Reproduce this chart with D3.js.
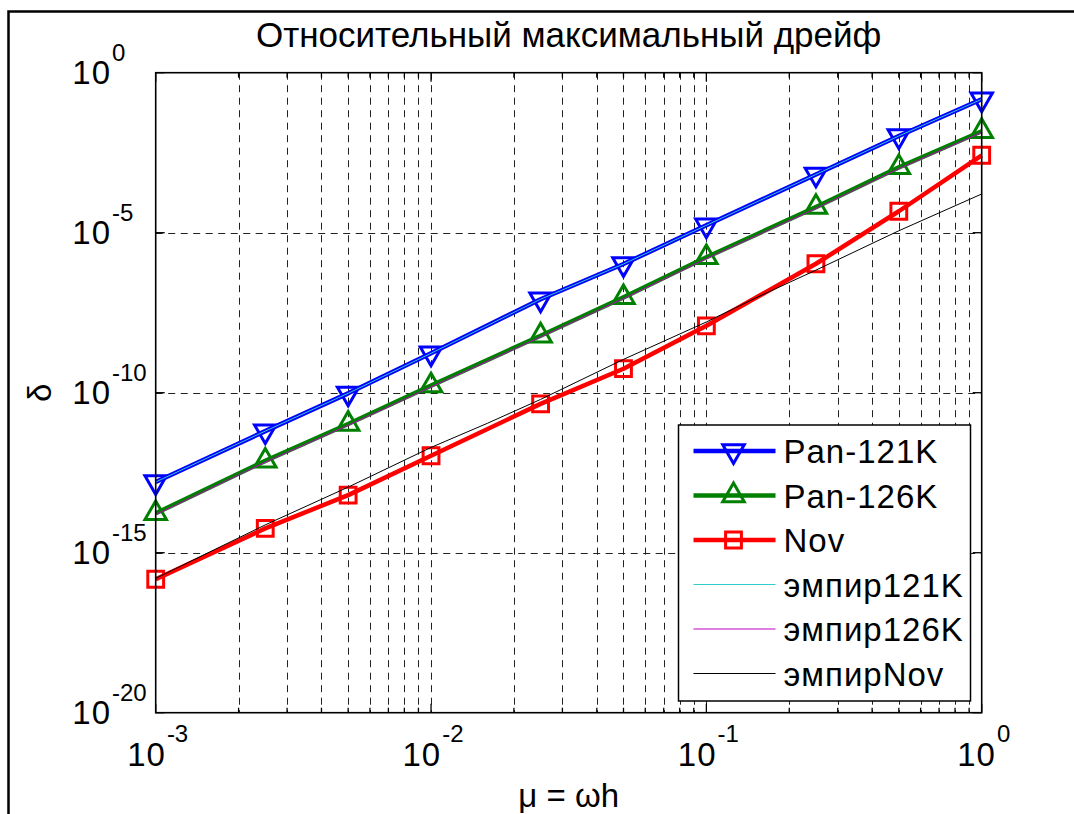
<!DOCTYPE html>
<html>
<head>
<meta charset="utf-8">
<script src="https://cdn.jsdelivr.net/npm/d3@7"></script>
<style>
  body { margin: 0; background: #fff; }
  svg text { font-family: "Liberation Sans", Arial, sans-serif; fill: #000; }
</style>
</head>
<body>
<div id="chart"></div>
<script>
// step sizes mu = omega*h
const muValues = [0.001, 0.0025, 0.005, 0.01, 0.025, 0.05, 0.1, 0.25, 0.5, 1];

// relative maximum drift
const pan121K = [1.62e-13, 6.31e-12, 9.55e-11, 1.70e-9, 8.32e-8, 1.05e-6, 1.70e-5, 6.61e-4, 1.05e-2, 0.148];
const pan126K = [1.70e-14, 7.41e-13, 1.05e-11, 1.66e-10, 6.03e-9, 9.55e-8, 1.70e-6, 6.31e-5, 1.10e-3, 1.48e-2];
const nov = [1.48e-16, 5.75e-15, 6.31e-14, 1.07e-12, 4.47e-11, 5.62e-10, 1.23e-8, 1.07e-6, 4.68e-5, 2.63e-3];

// empirical estimates
const emp121K = [1.62e-13, 6.31e-12, 9.55e-11, 1.70e-9, 8.32e-8, 1.05e-6, 1.70e-5, 6.61e-4, 1.05e-2, 0.148];
const emp126K = [1.55e-14, 6.76e-13, 9.55e-12, 1.51e-10, 5.50e-9, 8.71e-8, 1.55e-6, 5.75e-5, 1.00e-3, 1.35e-2];
const empNovMu = [0.001, 0.0025, 0.005, 0.01, 0.016, 0.025, 0.05, 0.1, 0.15, 0.25, 0.5, 1];
const empNov = [1.58e-16, 7.41e-15, 1.12e-13, 1.95e-12, 1.10e-11, 6.17e-11, 1.10e-9, 1.62e-8, 8.91e-8, 6.76e-7, 1.15e-5, 1.62e-4];

const xTickExps = [-3, -2, -1, 0];
const yTickExps = [0, -5, -10, -15, -20];
const legendNames = ['Pan-121K', 'Pan-126K', 'Nov', 'эмпир121K', 'эмпир126K', 'эмпирNov'];

const width = 1074, height = 814;
const plot = { left: 155.7, right: 981.7, top: 72.7, bottom: 712.7 };

const svg = d3.select('#chart')
  .append('svg')
  .attr('width', width)
  .attr('height', height);

svg.append('rect')
  .attr('width', width)
  .attr('height', height)
  .attr('fill', '#fff');

// figure frame (cut off at right and bottom)
svg.append('rect')
  .attr('x', 8.5)
  .attr('y', 11.5)
  .attr('width', 1100)
  .attr('height', 900)
  .attr('fill', 'none')
  .attr('stroke', '#000')
  .attr('stroke-width', 2.5);

const xScale = d3.scaleLog().domain([1e-3, 1]).range([plot.left, plot.right]);
const yScale = d3.scaleLog().domain([1e-20, 1]).range([plot.bottom, plot.top]);

// grid
const xGrid = [];
xTickExps.slice(0, -1).forEach(e => {
  for (let k = 1; k <= 9; k++) xGrid.push(k * Math.pow(10, e));
});
const xMinor = xGrid.filter((d, i) => i % 9 !== 0);

const grid = svg.append('g')
  .attr('stroke', '#222')
  .attr('stroke-width', 1)
  .attr('stroke-dasharray', '7,5.5');

grid.selectAll('.vgrid')
  .data(xGrid.slice(1))
  .enter()
  .append('line')
  .attr('x1', d => Math.round(xScale(d)) + 0.5)
  .attr('x2', d => Math.round(xScale(d)) + 0.5)
  .attr('y1', plot.top)
  .attr('y2', plot.bottom);

grid.selectAll('.hgrid')
  .data([-5, -10, -15])
  .enter()
  .append('line')
  .attr('x1', plot.left)
  .attr('x2', plot.right)
  .attr('y1', d => Math.round(yScale(Math.pow(10, d))) + 0.5)
  .attr('y2', d => Math.round(yScale(Math.pow(10, d))) + 0.5);

// series
const series = [
  { name: legendNames[0], mu: muValues, values: pan121K, color: '#0000ff', width: 4.5, marker: 'down' },
  { name: legendNames[1], mu: muValues, values: pan126K, color: '#008000', width: 4.5, marker: 'up' },
  { name: legendNames[2], mu: muValues, values: nov, color: '#ff0000', width: 4.5, marker: 'square' },
  { name: legendNames[3], mu: muValues, values: emp121K, color: '#33cccc', width: 1, marker: null },
  { name: legendNames[4], mu: muValues, values: emp126K, color: '#c000c0', width: 1, marker: null },
  { name: legendNames[5], mu: empNovMu, values: empNov, color: '#000000', width: 1, marker: null }
];

const line = d3.line()
  .x(d => xScale(d[0]))
  .y(d => yScale(d[1]));

const triSize = 200, sqSize = 250, markerStroke = 3;

function markerPath(type) {
  if (type === 'square') return d3.symbol(d3.symbolSquare, sqSize)();
  return d3.symbol(d3.symbolTriangle, triSize)();
}
function markerTransform(type, x, y) {
  return type === 'down' ? `translate(${x},${y}) rotate(180)` : `translate(${x},${y})`;
}

series.forEach(s => {
  const pts = s.mu.map((m, i) => [m, s.values[i]]);
  svg.append('path')
    .datum(pts)
    .attr('fill', 'none')
    .attr('stroke', s.color)
    .attr('stroke-width', s.width)
    .attr('stroke-linejoin', 'round')
    .attr('d', line);

  if (s.marker) {
    svg.selectAll(null)
      .data(pts)
      .enter()
      .append('path')
      .attr('d', markerPath(s.marker))
      .attr('transform', d => markerTransform(s.marker, xScale(d[0]), yScale(d[1])))
      .attr('fill', 'none')
      .attr('stroke', s.color)
      .attr('stroke-width', markerStroke);
  }
});

// axes box
svg.append('rect')
  .attr('x', plot.left)
  .attr('y', plot.top)
  .attr('width', plot.right - plot.left)
  .attr('height', plot.bottom - plot.top)
  .attr('fill', 'none')
  .attr('stroke', '#000')
  .attr('stroke-width', 1.6);

// ticks
const ticks = svg.append('g').attr('stroke', '#000').attr('stroke-width', 1.3);
const xMajor = xTickExps.map(e => Math.pow(10, e));
[[xMajor, 9], [xMinor, 5]].forEach(([vals, len]) => {
  vals.forEach(v => {
    const x = xScale(v);
    ticks.append('line').attr('x1', x).attr('x2', x).attr('y1', plot.bottom).attr('y2', plot.bottom - len);
    ticks.append('line').attr('x1', x).attr('x2', x).attr('y1', plot.top).attr('y2', plot.top + len);
  });
});
yTickExps.forEach(e => {
  const y = yScale(Math.pow(10, e));
  ticks.append('line').attr('x1', plot.left).attr('x2', plot.left + 9).attr('y1', y).attr('y2', y);
  ticks.append('line').attr('x1', plot.right).attr('x2', plot.right - 9).attr('y1', y).attr('y2', y);
});

// tick labels
yTickExps.forEach(e => {
  const y = yScale(Math.pow(10, e));
  svg.append('text')
    .attr('x', 111)
    .attr('y', y + 11)
    .attr('text-anchor', 'end')
    .attr('font-size', '33px')
    .attr('letter-spacing', '1px')
    .text('10');
  svg.append('text')
    .attr('x', 112)
    .attr('y', y - 12)
    .attr('font-size', '24px')
    .text(e === 0 ? '0' : '-' + Math.abs(e));
});

xTickExps.forEach(e => {
  const x = xScale(Math.pow(10, e));
  const t = svg.append('text')
    .attr('x', x + 2)
    .attr('y', plot.bottom + 53)
    .attr('text-anchor', 'middle')
    .attr('font-size', '33px');
  t.append('tspan').attr('letter-spacing', '1px').text('10');
  t.append('tspan')
    .attr('dy', -24)
    .attr('dx', 1)
    .attr('font-size', '24px')
    .text(e === 0 ? '0' : '-' + Math.abs(e));
});

// title and axis labels
svg.append('text')
  .attr('x', (plot.left + plot.right) / 2)
  .attr('y', 47)
  .attr('text-anchor', 'middle')
  .attr('font-size', '35px')
  .text('Относительный максимальный дрейф');

svg.append('text')
  .attr('x', (plot.left + plot.right) / 2)
  .attr('y', 807)
  .attr('text-anchor', 'middle')
  .attr('font-size', '33px')
  .text('μ = ωh');

svg.append('text')
  .attr('transform', 'rotate(-90)')
  .attr('x', -(plot.top + plot.bottom) / 2)
  .attr('y', 51)
  .attr('text-anchor', 'middle')
  .attr('font-size', '33px')
  .text('δ');

// legend
const legend = svg.append('g').attr('transform', 'translate(678.5,425)');
legend.append('rect')
  .attr('width', 292)
  .attr('height', 276)
  .attr('fill', '#fff')
  .attr('stroke', '#000')
  .attr('stroke-width', 1.5);

series.forEach((s, i) => {
  const y = 26 + i * 44.5;
  legend.append('line')
    .attr('x1', 15).attr('x2', 97)
    .attr('y1', y).attr('y2', y)
    .attr('stroke', s.color)
    .attr('stroke-width', s.width);
  if (s.marker) {
    legend.append('path')
      .attr('d', markerPath(s.marker))
      .attr('transform', markerTransform(s.marker, 55, y))
      .attr('fill', 'none')
      .attr('stroke', s.color)
      .attr('stroke-width', markerStroke);
  }
  legend.append('text')
    .attr('x', 105)
    .attr('y', y + 12)
    .attr('font-size', '33px')
    .attr('letter-spacing', '1px')
    .text(s.name);
});
</script>
</body>
</html>
